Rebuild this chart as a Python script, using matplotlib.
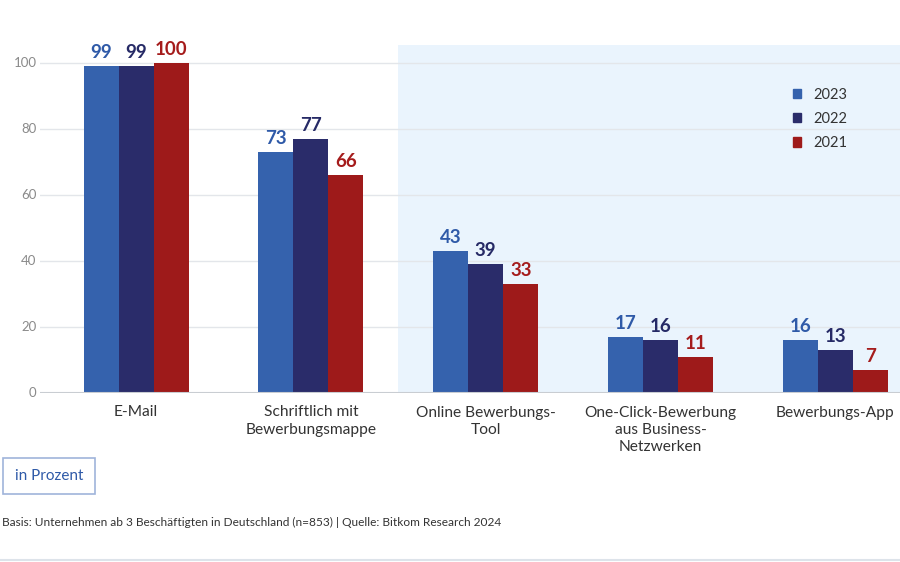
import matplotlib.pyplot as plt
import numpy as np
from matplotlib.patches import Rectangle
from matplotlib.lines import Line2D

plt.rcParams['font.family'] = ['Lato', 'DejaVu Sans']

categories = ['E-Mail', 'Schriftlich mit\nBewerbungsmappe', 'Online Bewerbungs-\nTool',
              'One-Click-Bewerbung\naus Business-\nNetzwerken', 'Bewerbungs-App']
years = ['2023', '2022', '2021']
v2023 = [99, 73, 43, 17, 16]
v2022 = [99, 77, 39, 16, 13]
v2021 = [100, 66, 33, 11, 7]
yticks = [0, 20, 40, 60, 80, 100]

bar_colors = ['#3562ad', '#2a2c6a', '#9e1a1a']
label_colors = ['#2f5aa8', '#262a66', '#a51c1c']

fig = plt.figure(figsize=(9, 5.62), dpi=100)
ax = fig.add_axes([40/900, 1-393/562, 860/900, 348/562])

x = np.arange(len(categories))
w = 0.2
ax.axvspan(1.5, 4.37, color='#eaf4fd', zorder=0, lw=0)

for i, vals in enumerate([v2023, v2022, v2021]):
    xs = x + (i-1)*w
    ax.bar(xs, vals, w, color=bar_colors[i], zorder=3, label=years[i])
    for xx, v in zip(xs, vals):
        ax.text(xx, v+1.5, str(v), ha='center', va='bottom', fontsize=13.5,
                fontweight='bold', color=label_colors[i], zorder=4)

ax.set_xlim(-0.55, 4.37)
ax.set_ylim(0, 105.5)
ax.set_yticks([20, 40, 60, 80, 100])
ax.set_yticklabels([])
for t in yticks:
    ax.text(-0.57, t, str(t), ha='right', va='center', fontsize=9.5, color='#8a8a8a')
for t in [20, 40, 60, 80, 100]:
    ax.axhline(t, color='#e3e6ea', lw=1, zorder=1)
ax.axhline(0, color='#c9cdd2', lw=1.5, zorder=4)
ax.tick_params(length=0)
ax.set_xticks(x)
ax.set_xticklabels(categories, fontsize=11.2, color='#333333', linespacing=1.3)
ax.tick_params(axis='x', pad=9)
for s in ax.spines.values():
    s.set_visible(False)
ax.set_facecolor('none')

handles = [Rectangle((0, 0), 1, 1, color=c) for c in bar_colors]
ax.legend(handles, years, loc='upper left', bbox_to_anchor=(0.86, 0.915), frameon=False,
          fontsize=10.5, handlelength=0.6, handleheight=0.6, handletextpad=0.8,
          labelspacing=0.7, labelcolor='#333333')

fig.text(49/900, 1-476/562, 'in Prozent', ha='center', va='center', fontsize=11,
         color='#2f5aa8',
         bbox=dict(boxstyle='square,pad=0.75', fc='white', ec='#9fb4da', lw=1.2))
fig.text(0.002, 1-522/562, 'Basis: Unternehmen ab 3 Beschäftigten in Deutschland (n=853) | Quelle: Bitkom Research 2024',
         ha='left', va='center', fontsize=8.6, color='#333333')
fig.add_artist(Line2D([0, 1], [1-560/562, 1-560/562], color='#dde3ea', lw=1.5))

fig.savefig('out.png', dpi=100)
